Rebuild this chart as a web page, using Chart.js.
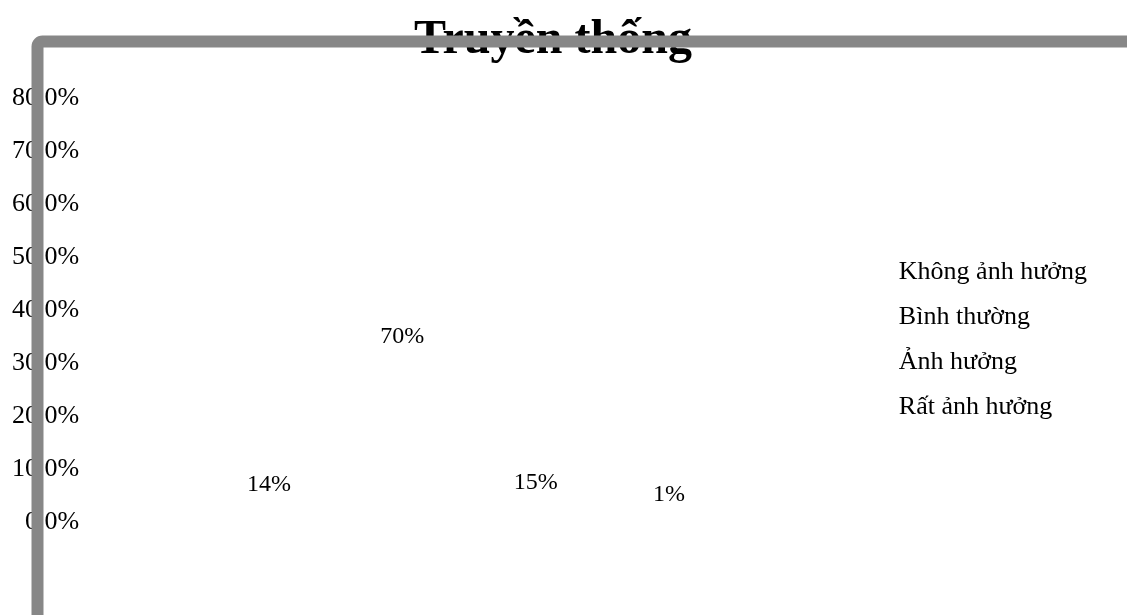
<!DOCTYPE html>
<html>
<head>
<meta charset="utf-8">
<script src="https://cdn.jsdelivr.net/npm/chart.js@4"></script>
<style>
  html, body { margin: 0; padding: 0; background: #fff; }
  #wrap { width: 1127px; height: 615px; }
</style>
</head>
<body>
<div id="wrap"><canvas id="c" width="1127" height="615"></canvas></div>
<script>
const titleText = "Truyền thống";
const categories = [""];
const seriesNames = ["Không ảnh hưởng", "Bình thường", "Ảnh hưởng", "Rất ảnh hưởng"];
const seriesValues = [[14], [70], [15], [1]];
const yTicks = [0, 10, 20, 30, 40, 50, 60, 70, 80];

const SERIF = "'Liberation Serif', 'Times New Roman', serif";

const frameBorder = {
  id: 'frameBorder',
  afterDraw(chart) {
    const ctx = chart.ctx;
    ctx.save();
    ctx.strokeStyle = '#878787';
    ctx.lineWidth = 12;
    ctx.beginPath();
    ctx.roundRect(37.5, 41.5, 1300, 800, 5);
    ctx.stroke();
    ctx.restore();
  }
};

const valueLabels = {
  id: 'valueLabels',
  afterDatasetsDraw(chart) {
    const ctx = chart.ctx;
    ctx.save();
    ctx.font = "24px " + SERIF;
    ctx.fillStyle = '#000';
    ctx.textAlign = 'center';
    ctx.textBaseline = 'middle';
    chart.data.datasets.forEach((ds, i) => {
      const meta = chart.getDatasetMeta(i);
      meta.data.forEach((bar, j) => {
        const p = bar.getProps(['x', 'y', 'base'], true);
        const mid = (p.y + p.base) / 2;
        const y = Math.min(mid, p.base - 27);
        ctx.fillText(ds.data[j] + '%', p.x, y);
      });
    });
    ctx.restore();
  }
};

const datasets = seriesNames.map((name, i) => ({
  label: name,
  data: seriesValues[i],
  backgroundColor: 'rgba(0,0,0,0)',
  borderColor: 'rgba(0,0,0,0)',
  borderWidth: 0
}));

new Chart(document.getElementById('c'), {
  type: 'bar',
  data: { labels: categories, datasets },
  options: {
    responsive: false,
    animation: false,
    devicePixelRatio: 1,
    categoryPercentage: 0.704,
    barPercentage: 1,
    layout: { padding: { left: 9, right: 30, top: 0, bottom: 93 } },
    plugins: {
      title: {
        display: true,
        text: titleText,
        color: '#000',
        font: { family: SERIF, size: 48, weight: 'bold' },
        padding: { top: 12, bottom: 28.6 }
      },
      legend: {
        display: true,
        position: 'right',
        align: 'center',
        fullSize: false,
        title: { display: true, text: ' ', font: { family: SERIF, size: 24 }, padding: { top: 15, bottom: 15 } },
        labels: {
          boxWidth: 19,
          boxHeight: 0,
          padding: 19,
          color: '#000',
          font: { family: SERIF, size: 26 }
        }
      },
      tooltip: { enabled: false }
    },
    scales: {
      x: { display: false },
      y: {
        min: 0,
        max: 80,
        afterBuildTicks(axis) { axis.ticks = yTicks.map(v => ({ value: v })); },
        grid: { display: false },
        border: { display: false },
        ticks: {
          color: '#000',
          padding: 3,
          font: { family: SERIF, size: 26 },
          callback: v => v.toFixed(1) + '%'
        }
      }
    }
  },
  plugins: [valueLabels, frameBorder]
});
</script>
</body>
</html>
